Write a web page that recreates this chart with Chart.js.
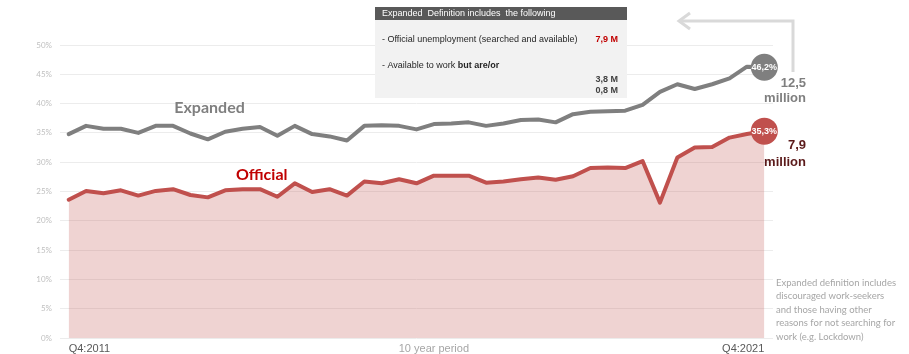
<!DOCTYPE html>
<html>
<head>
<meta charset="utf-8">
<script src="https://cdn.jsdelivr.net/npm/chart.js@4.4.1/dist/chart.umd.min.js"></script>
<style>
  html, body { margin: 0; padding: 0; background: #ffffff; }
  #wrap { width: 909px; height: 354px; position: relative; }
</style>
</head>
<body>
<div id="wrap"><canvas id="c" width="909" height="354"></canvas></div>
<script>
// Quarterly unemployment rates, Q4:2011 to Q4:2021
const quarters = [
  'Q4:2011',
  'Q1:2012','Q2:2012','Q3:2012','Q4:2012',
  'Q1:2013','Q2:2013','Q3:2013','Q4:2013',
  'Q1:2014','Q2:2014','Q3:2014','Q4:2014',
  'Q1:2015','Q2:2015','Q3:2015','Q4:2015',
  'Q1:2016','Q2:2016','Q3:2016','Q4:2016',
  'Q1:2017','Q2:2017','Q3:2017','Q4:2017',
  'Q1:2018','Q2:2018','Q3:2018','Q4:2018',
  'Q1:2019','Q2:2019','Q3:2019','Q4:2019',
  'Q1:2020','Q2:2020','Q3:2020','Q4:2020',
  'Q1:2021','Q2:2021','Q3:2021','Q4:2021'
];

// Expanded definition (%)
const expandedRate = [
  34.8,
  36.2, 35.7, 35.7, 35.0,
  36.2, 36.2, 34.9, 33.9,
  35.2, 35.7, 36.0, 34.5,
  36.2, 34.8, 34.4, 33.7,
  36.2, 36.3, 36.2, 35.6,
  36.5, 36.6, 36.8, 36.2,
  36.6, 37.2, 37.3, 36.8,
  38.2, 38.6, 38.7, 38.8,
  39.8, 42.0, 43.3, 42.5,
  43.3, 44.3, 46.3, 46.2
];

// Official definition (%)
const officialRate = [
  23.6,
  25.1, 24.7, 25.2, 24.3,
  25.1, 25.4, 24.4, 24.0,
  25.2, 25.4, 25.4, 24.1,
  26.4, 24.9, 25.4, 24.3,
  26.7, 26.4, 27.1, 26.4,
  27.7, 27.7, 27.7, 26.5,
  26.7, 27.1, 27.4, 27.0,
  27.6, 29.0, 29.1, 29.0,
  30.2, 23.1, 30.8, 32.5,
  32.6, 34.2, 34.8, 35.3
];

const seriesNames = ['Expanded', 'Official'];
const periodCaption = '10 year period';
const latestCounts = ['12,5', '7,9'];   // millions of people, latest quarter

const boxTitle = 'Expanded  Definition includes  the following';
const boxLines = [
  { text: '- Official unemployment (searched and available)', amount: '7,9 M' },
  { text: '- Available to work ', bold: 'but are/or' }
];
const boxAmounts = ['3,8 M', '0,8 M'];

const noteLines = [
  'Expanded definition includes',
  'discouraged work-seekers',
  'and those having other',
  'reasons for not searching for',
  'work (e.g. Lockdown)'
];

const GREY = '#7f7f7f';
const RED = '#c0504d';
const last = quarters.length - 1;
const captionIndex = 21;
const fmtPct = v => v.toFixed(1).replace('.', ',') + '%';

// Text, end-point badges, info box, arrow and side note
const overlay = {
  id: 'overlay',
  afterDatasetsDraw(chart) {
    const ctx = chart.ctx;
    const x = chart.scales.x, y = chart.scales.y;
    const area = chart.chartArea;
    ctx.save();

    // values inside the end-point circles
    ctx.textAlign = 'center';
    ctx.textBaseline = 'middle';
    ctx.fillStyle = '#ffffff';
    ctx.font = 'bold 9px "Liberation Sans", Arial, sans-serif';
    chart.data.datasets.forEach((ds, i) => {
      const p = chart.getDatasetMeta(i).data[last];
      ctx.fillText(fmtPct(ds.data[last]), p.x, p.y + 0.5);
    });

    // series names
    ctx.font = 'bold 16px Lato, "Open Sans", sans-serif';
    ctx.fillStyle = GREY;
    ctx.fillText(seriesNames[0], x.getPixelForValue(8.1), y.getPixelForValue(39.2));
    ctx.fillStyle = '#c00000';
    ctx.fillText(seriesNames[1], x.getPixelForValue(11.1), y.getPixelForValue(27.8));

    // latest counts in millions
    ctx.textAlign = 'right';
    ctx.font = 'bold 13px "Liberation Sans", Arial, sans-serif';
    const rx = area.right + 33;
    ctx.fillStyle = GREY;
    ctx.fillText(latestCounts[0], rx, y.getPixelForValue(43.5));
    ctx.fillText('million', rx, y.getPixelForValue(40.8));
    ctx.fillStyle = '#5b1a1a';
    ctx.fillText(latestCounts[1], rx, y.getPixelForValue(32.8));
    ctx.fillText('million', rx, y.getPixelForValue(29.9));

    // info box
    const bx = 375, by = 7, bw = 252, bh = 91;
    ctx.fillStyle = '#f2f2f2';
    ctx.fillRect(bx, by, bw, bh);
    ctx.fillStyle = '#595959';
    ctx.fillRect(bx, by, bw, 13);
    ctx.textAlign = 'left';
    ctx.fillStyle = '#ffffff';
    ctx.font = '9px "Liberation Sans", Arial, sans-serif';
    ctx.fillText(boxTitle, bx + 7, by + 7);

    ctx.fillStyle = '#262626';
    ctx.fillText(boxLines[0].text, bx + 7, 40);
    ctx.textAlign = 'right';
    ctx.fillStyle = '#c00000';
    ctx.font = 'bold 9px "Liberation Sans", Arial, sans-serif';
    ctx.fillText(boxLines[0].amount, bx + bw - 9, 40);

    ctx.textAlign = 'left';
    ctx.fillStyle = '#262626';
    ctx.font = '9px "Liberation Sans", Arial, sans-serif';
    ctx.fillText(boxLines[1].text, bx + 7, 66);
    const w = ctx.measureText(boxLines[1].text).width;
    ctx.font = 'bold 9px "Liberation Sans", Arial, sans-serif';
    ctx.fillText(boxLines[1].bold, bx + 7 + w, 66);

    ctx.textAlign = 'right';
    ctx.fillStyle = '#404040';
    ctx.fillText(boxAmounts[0], bx + bw - 9, 80);
    ctx.fillText(boxAmounts[1], bx + bw - 9, 91);

    // arrow pointing back to the box
    ctx.strokeStyle = '#d9d9d9';
    ctx.lineWidth = 3;
    ctx.lineJoin = 'miter';
    ctx.beginPath();
    ctx.moveTo(793, 72);
    ctx.lineTo(793, 21);
    ctx.lineTo(679, 21);
    ctx.stroke();
    ctx.beginPath();
    ctx.moveTo(690, 13);
    ctx.lineTo(679, 21);
    ctx.lineTo(690, 29);
    ctx.stroke();

    // side note
    ctx.textAlign = 'left';
    ctx.fillStyle = '#a6a6a6';
    ctx.font = '9.5px Lato, "Open Sans", sans-serif';
    noteLines.forEach((t, i) => ctx.fillText(t, 776, 283 + i * 13.4));

    ctx.restore();
  }
};

new Chart(document.getElementById('c'), {
  type: 'line',
  data: {
    labels: quarters,
    datasets: [
      {
        label: seriesNames[0],
        data: expandedRate,
        borderColor: GREY,
        backgroundColor: GREY,
        borderWidth: 4,
        borderJoinStyle: 'round',
        borderCapStyle: 'round',
        tension: 0,
        fill: false,
        pointRadius: c => c.dataIndex === last ? 13.5 : 0,
        pointBackgroundColor: GREY,
        pointBorderWidth: 0
      },
      {
        label: seriesNames[1],
        data: officialRate,
        borderColor: RED,
        backgroundColor: 'rgba(192,80,77,0.25)',
        borderWidth: 4,
        borderJoinStyle: 'round',
        borderCapStyle: 'round',
        tension: 0,
        fill: 'origin',
        pointRadius: c => c.dataIndex === last ? 13.5 : 0,
        pointBackgroundColor: RED,
        pointBorderWidth: 0
      }
    ]
  },
  options: {
    responsive: false,
    animation: false,
    devicePixelRatio: 1,
    events: [],
    layout: { padding: { top: 45, right: 136, bottom: 0, left: 0 } },
    plugins: { legend: { display: false }, tooltip: { enabled: false } },
    scales: {
      x: {
        offset: true,
        grid: { display: false, drawTicks: false },
        border: { display: false },
        afterFit: s => { s.height = 16; },
        ticks: {
          autoSkip: false,
          maxRotation: 0,
          align: 'inner',
          padding: 4,
          font: { family: '"Liberation Sans", Arial, sans-serif', size: 11 },
          color: c => c.index === captionIndex ? '#a6a6a6' : '#595959',
          callback: (v, i) => (i === 0 || i === last) ? quarters[i] : (i === captionIndex ? periodCaption : '')
        }
      },
      y: {
        min: 0,
        max: 50,
        grid: { color: '#ececec', lineWidth: 1, drawTicks: false },
        border: { display: false },
        afterFit: s => { s.width = 60; },
        ticks: {
          stepSize: 5,
          padding: 8,
          font: { family: 'Lato, sans-serif', size: 8 },
          color: '#bfbfbf',
          callback: v => v + '%'
        }
      }
    }
  },
  plugins: [overlay]
});
</script>
</body>
</html>
